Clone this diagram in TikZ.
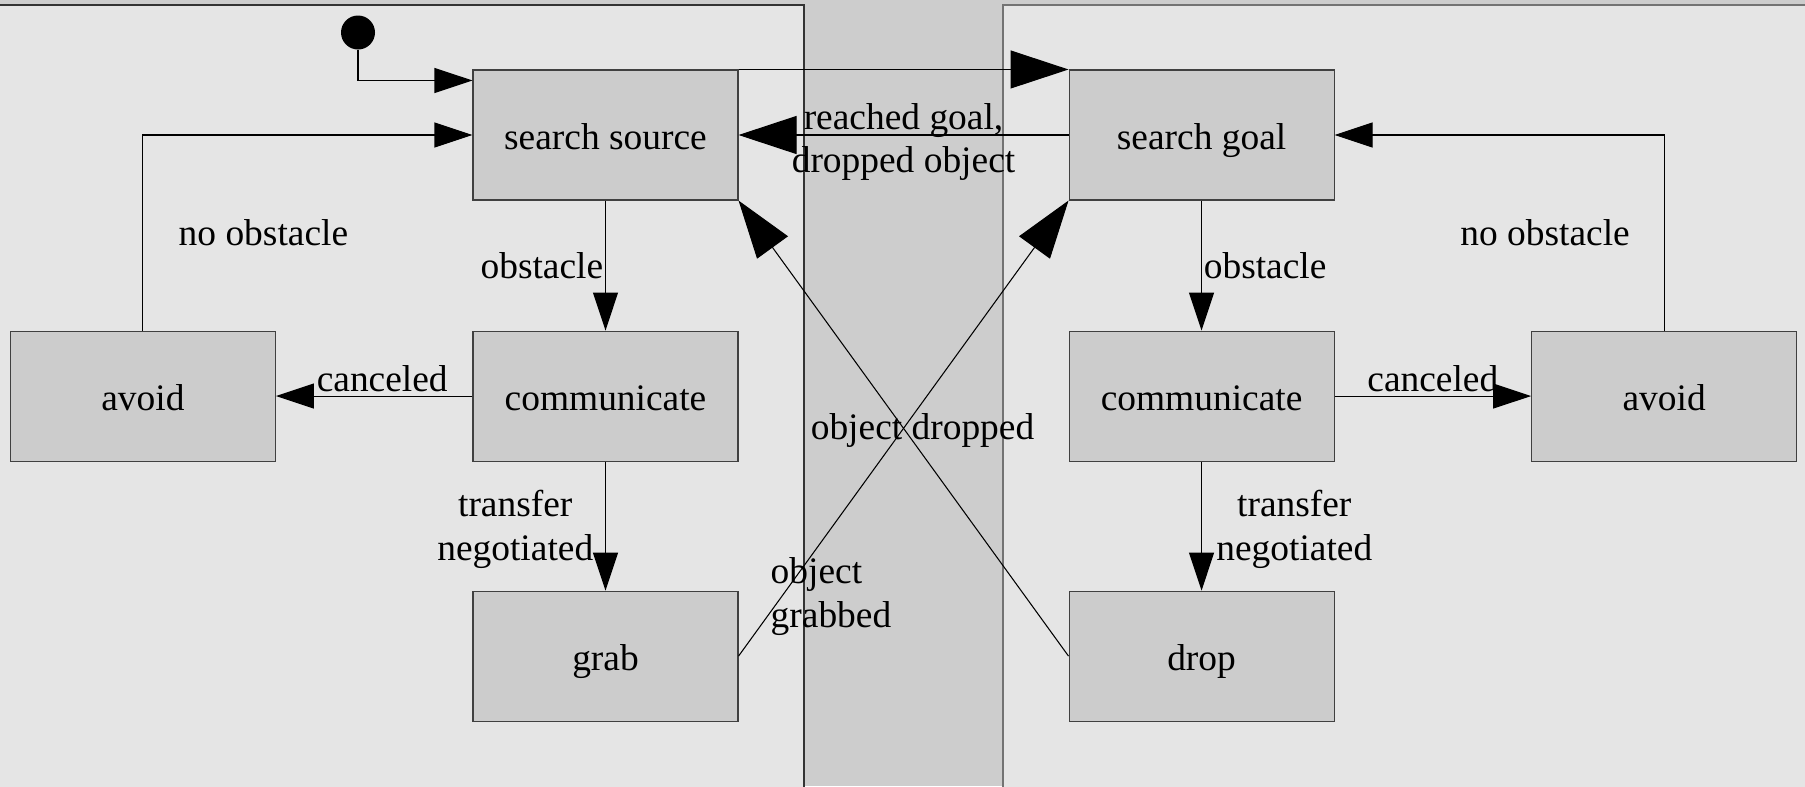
\documentclass[tikz,border=0pt]{standalone}
\usepackage{fontspec}
\setmainfont{Liberation Serif}
\usetikzlibrary{arrows.meta,positioning}

\definecolor{bandgray}{HTML}{CDCDCD}
\definecolor{lanegray}{HTML}{E5E5E5}
\definecolor{boxgray}{HTML}{CCCCCC}

\begin{document}
\begin{tikzpicture}[
  font=\fontsize{21.3}{25}\selectfont,
  box/.style={draw=black!75,line width=0.6pt,fill=boxgray,align=center,
              minimum width=5.3cm,minimum height=2.6cm,inner sep=2pt,
              text height=16pt,text depth=0pt},
  lbl/.style={inner sep=1pt,align=center},
  flow/.style={-{Triangle[length=7.6mm,width=5mm]},line width=0.6pt,black},
  bigflow/.style={-{Triangle[length=11.6mm,width=7.6mm]},line width=0.6pt,black},
  lane/.style={line width=0.8pt},
]

% ---- background and the two swim lanes ----------------------------------
\fill[bandgray] (0,0) rectangle (36.1,-15.72);
\useasboundingbox (0,0) rectangle (36.1,-15.72);
\fill[lanegray] (-0.3,-16.2) rectangle (16.08,-0.1);
\fill[lanegray] (20.06,-16.2) rectangle (36.4,-0.1);
\draw[lane,black!80] (-0.3,-0.1) -- (16.08,-0.1) -- (16.08,-16.2);
\draw[lane,black!55] (36.4,-0.1) -- (20.06,-0.1) -- (20.06,-16.2);

% ---- source side (left) -------------------------------------------------
\node[box] (ss) at (12.11,-2.7) {search source};
\node[box,below=2.6cm of ss]    (commL)  {communicate};
\node[box,below=2.58cm of commL] (grab)  {grab};
\node[box,left=3.93cm of commL] (avoidL) {avoid};
\node[circle,fill=black,inner sep=0pt,minimum size=6.8mm] (init) at (7.16,-0.65) {};

% ---- goal side (right) --------------------------------------------------
\node[box,right=6.6cm of ss]    (sg)     {search goal};
\node[box,below=2.6cm of sg]    (commR)  {communicate};
\node[box,below=2.58cm of commR] (drop)  {drop};
\node[box,right=3.93cm of commR] (avoidR) {avoid};

% ---- transitions on the source side -------------------------------------
\draw[flow] (init) |- ([yshift=-2.2mm]ss.north west);
\draw[flow] (avoidL.north) |- node[lbl,pos=0.25,right=6.7mm]{no obstacle} (ss.west);
\draw[flow] (ss) -- node[lbl,left=0pt]{obstacle} (commL);
\draw[flow] (commL) -- node[lbl,above=1pt,xshift=1.6mm]{canceled} (avoidL);
\draw[flow] (commL) -- node[lbl,left=2mm,yshift=-0.7mm]{transfer\\negotiated} (grab);

% ---- transitions on the goal side ---------------------------------------
\draw[flow] (avoidR.north) |- node[lbl,pos=0.25,left=6.4mm]{no obstacle} (sg.east);
\draw[flow] (sg) -- node[lbl,right=0pt]{obstacle} (commR);
\draw[flow] (commR) -- node[lbl,above=1pt]{canceled} (avoidR);
\draw[flow] (commR) -- node[lbl,right=2.5mm,yshift=-0.7mm]{transfer\\negotiated} (drop);

% ---- transitions between the lanes --------------------------------------
\draw[bigflow] (ss.north east) -- (sg.north west);
\draw[bigflow] (sg) -- node[lbl,yshift=-1.4mm]{reached goal,\\dropped object} (ss);
\draw[bigflow] (grab.east) -- node[lbl,pos=0.13,anchor=west,xshift=-2.6mm,align=left]{object\\grabbed} (sg.south west);
\draw[bigflow] (drop.west) -- node[lbl,pos=0.5,xshift=3.8mm,yshift=-0.5mm]{object dropped} (ss.south east);

\end{tikzpicture}
\end{document}
